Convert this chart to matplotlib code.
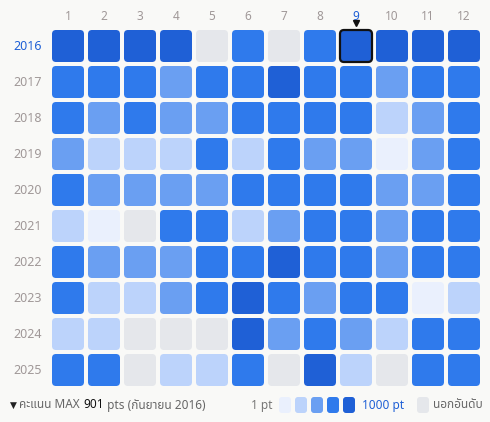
import matplotlib
matplotlib.use("Agg")
import matplotlib.pyplot as plt
from matplotlib.patches import FancyBboxPatch

years = [2016, 2017, 2018, 2019, 2020, 2021, 2022, 2023, 2024, 2025]
months = list(range(1, 13))
# level 0 = not ranked, 1..5 = score bucket
levels = [
    [5, 5, 5, 5, 0, 4, 0, 4, 5, 5, 5, 5],
    [4, 4, 4, 3, 4, 4, 5, 4, 4, 3, 4, 4],
    [4, 3, 4, 3, 3, 4, 4, 4, 4, 2, 3, 4],
    [3, 2, 2, 2, 4, 2, 4, 3, 3, 1, 3, 4],
    [4, 3, 3, 3, 3, 4, 4, 4, 4, 3, 3, 4],
    [2, 1, 0, 4, 4, 2, 3, 4, 4, 3, 4, 4],
    [4, 3, 3, 3, 4, 4, 5, 4, 4, 3, 4, 4],
    [4, 2, 2, 3, 4, 5, 4, 3, 4, 4, 1, 2],
    [2, 2, 0, 0, 0, 5, 3, 4, 3, 2, 4, 4],
    [4, 4, 0, 2, 2, 4, 0, 5, 2, 0, 4, 4],
]
max_year, max_month, max_pts = 2016, 9, 901

colors = ["#e5e7eb", "#eaf0fd", "#bcd3fb", "#6a9ff2", "#2f7aec", "#1f60d6"]
fam = ["Noto Sans Thai", "Noto Sans", "DejaVu Sans"]
plt.rcParams["font.family"] = fam

fig = plt.figure(figsize=(4.9, 4.22), dpi=100)
fig.patch.set_facecolor("#f9f9f7")
ax = fig.add_axes([0, 0, 1, 1])
ax.set_xlim(0, 490)
ax.set_ylim(422, 0)
ax.axis("off")

x0, y0, pitch, size = 52, 30, 36, 32
for r, yr in enumerate(years):
    for c, m in enumerate(months):
        x, y = x0 + c * pitch, y0 + r * pitch
        hl = (yr == max_year and m == max_month)
        ax.add_patch(FancyBboxPatch((x + 3, y + 3), size - 6, size - 6,
                                    boxstyle="round,pad=3,rounding_size=4",
                                    fc=colors[levels[r][c]],
                                    ec="#111111" if hl else "none", lw=1.6 if hl else 0))
    bold = yr == max_year
    ax.text(42, y0 + r * pitch + size / 2, str(yr), ha="right", va="center", fontsize=9,
            color="#1f60d6" if bold else "#a09898", fontweight="bold" if bold else "normal")

for c, m in enumerate(months):
    cx = x0 + c * pitch + size / 2
    bold = m == max_month
    ax.text(cx, 17, str(m), ha="center", va="center", fontsize=8.5,
            color="#1f60d6" if bold else "#a09898", fontweight="bold" if bold else "normal")
    if bold:
        ax.plot(cx, 23, marker="v", ms=5, color="#111111")

# footer, left part
fig.canvas.draw()
rend = fig.canvas.get_renderer()
xp = 10
for txt, kw in [("▼ ", dict(color="#222222", fontsize=6.5)),
                ("คะแนน MAX ", dict(color="#666666", fontsize=8.5)),
                (str(max_pts), dict(color="#111111", fontsize=8.5, fontweight="bold")),
                (" pts (กันยายน 2016)", dict(color="#666666", fontsize=8.5))]:
    t = ax.text(xp, 405, txt, ha="left", va="center", **kw)
    bb = t.get_window_extent(rend)
    xp += bb.width

ax.text(272, 405, "1 pt", ha="right", va="center", fontsize=8.5, color="#777777")
for i in range(1, 6):
    ax.add_patch(FancyBboxPatch((279 + (i - 1) * 16 + 2, 399), 8, 12,
                                boxstyle="round,pad=2,rounding_size=3", fc=colors[i], ec="none"))
ax.text(362, 405, "1000 pt", ha="left", va="center", fontsize=8.5, color="#1f60d6", fontweight="bold")
ax.add_patch(FancyBboxPatch((419, 399), 8, 12, boxstyle="round,pad=2,rounding_size=3",
                            fc=colors[0], ec="none"))
ax.text(433, 405, "นอกอันดับ", ha="left", va="center", fontsize=8.5, color="#666666")

fig.savefig("out.png", dpi=100, facecolor=fig.get_facecolor())
